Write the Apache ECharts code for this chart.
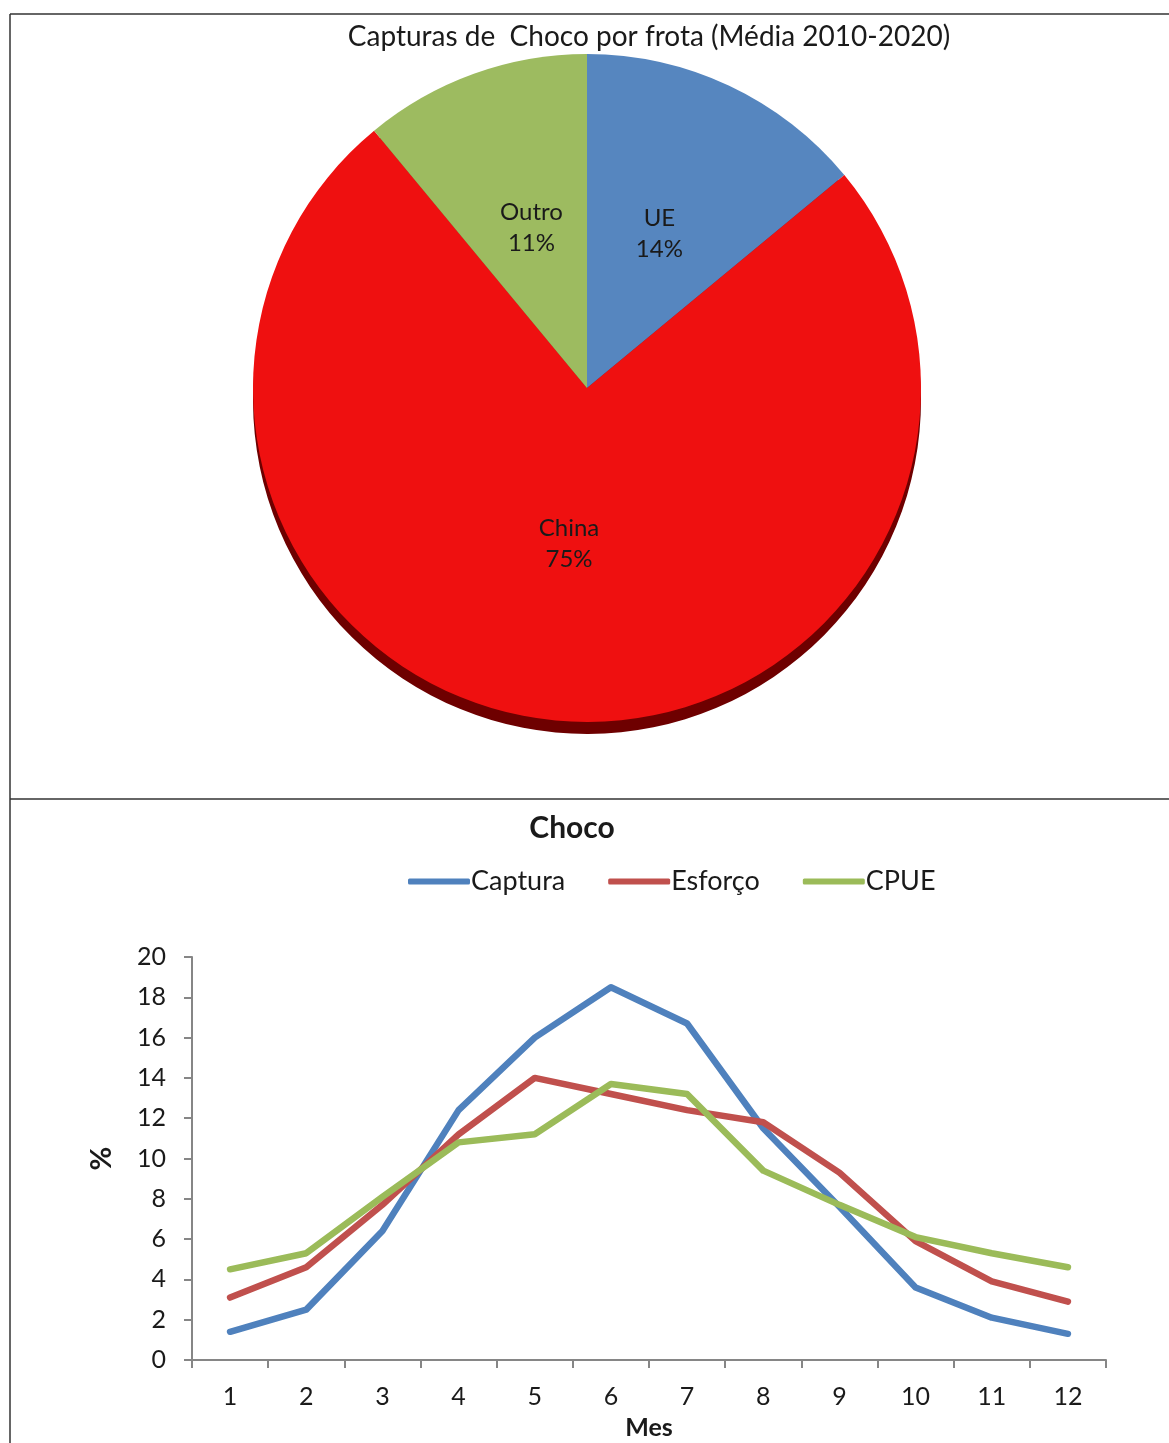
<!DOCTYPE html>
<html>
<head>
<meta charset="utf-8">
<script src="https://cdn.jsdelivr.net/npm/echarts@6/dist/echarts.min.js"></script>
<style>
  html, body { margin: 0; padding: 0; background: #ffffff; }
  #chart { width: 1169px; height: 1443px; }
</style>
</head>
<body>
<div id="chart"></div>
<script>
// Fleet shares of cuttlefish catches (2010-2020 average)
const fleets = ['UE', 'China', 'Outro'];
const fleetShare = [14, 75, 11];

// Monthly distribution (%)
const months = ['1', '2', '3', '4', '5', '6', '7', '8', '9', '10', '11', '12'];
const captura = [1.4, 2.5, 6.4, 12.4, 16.0, 18.5, 16.7, 11.5, 7.6, 3.6, 2.1, 1.3];
const esforco = [3.1, 4.6, 7.7, 11.2, 14.0, 13.2, 12.4, 11.8, 9.3, 5.9, 3.9, 2.9];
const cpue = [4.5, 5.3, 8.1, 10.8, 11.2, 13.7, 13.2, 9.4, 7.7, 6.1, 5.3, 4.6];

const FONT = 'Lato, "Liberation Sans", sans-serif';
const sliceColors = ['#5686BF', '#EF1010', '#9DBB60'];
const sideColors = ['#2d4f7a', '#6e0000', '#5d7733'];

const pieCenter = [587, 388];
const pieRadius = 334;

const chart = echarts.init(document.getElementById('chart'), null, { renderer: 'canvas' });

const option = {
  backgroundColor: '#ffffff',
  animation: false,
  textStyle: { fontFamily: FONT },
  title: [
    {
      text: 'Capturas de  Choco por frota (Média 2010-2020)',
      left: 649, top: 23, textAlign: 'center', padding: 0,
      textStyle: { fontFamily: FONT, fontSize: 28, fontWeight: 'normal', color: '#1a1a1a' }
    },
    {
      text: 'Choco',
      left: 572, top: 813, textAlign: 'center', padding: 0,
      textStyle: { fontFamily: FONT, fontSize: 30, fontWeight: 'bold', color: '#1a1a1a' }
    }
  ],
  legend: {
    left: 403, top: 863,
    itemWidth: 62, itemHeight: 6, itemGap: 43,
    icon: 'roundRect',
    textStyle: { fontFamily: FONT, fontSize: 27, color: '#1a1a1a', padding: [0, 0, 0, -4] },
    data: ['Captura', 'Esforço', 'CPUE']
  },
  grid: { left: 192, right: 63, top: 957, bottom: 83, containLabel: false },
  xAxis: {
    type: 'category',
    data: months,
    boundaryGap: true,
    name: 'Mes', nameLocation: 'middle', nameGap: 55,
    nameTextStyle: { fontFamily: FONT, fontSize: 25, fontWeight: 'bold', color: '#1a1a1a' },
    axisLine: { lineStyle: { color: '#868686', width: 2 } },
    axisTick: { show: true, length: 8, lineStyle: { color: '#868686', width: 2 } },
    axisLabel: { fontFamily: FONT, fontSize: 25, color: '#1a1a1a', margin: 24, interval: 0 },
    splitLine: { show: false }
  },
  yAxis: {
    type: 'value',
    min: 0, max: 20, interval: 2,
    name: '%', nameLocation: 'middle', nameGap: 76, nameRotate: 90,
    nameTextStyle: { fontFamily: FONT, fontSize: 29, fontWeight: 'bold', color: '#1a1a1a' },
    axisLine: { show: true, lineStyle: { color: '#868686', width: 2 } },
    axisTick: { show: true, length: 8, lineStyle: { color: '#868686', width: 2 } },
    axisLabel: { fontFamily: FONT, fontSize: 25, color: '#1a1a1a', margin: 26 },
    splitLine: { show: false }
  },
  series: [
    {
      // extruded side of the tilted pie
      type: 'pie',
      silent: true,
      center: [pieCenter[0], pieCenter[1] + 12],
      radius: pieRadius,
      startAngle: 90, clockwise: true,
      label: { show: false }, labelLine: { show: false },
      data: fleets.map((n, i) => ({ name: n + '_side', value: fleetShare[i], itemStyle: { color: sideColors[i] } }))
    },
    {
      type: 'pie',
      center: pieCenter,
      radius: pieRadius,
      startAngle: 90, clockwise: true,
      label: {
        show: true, position: 'inside',
        formatter: p => p.name + '\n' + p.value + '%',
        fontFamily: FONT, fontSize: 24, lineHeight: 31, color: '#1a1a1a'
      },
      labelLine: { show: false },
      itemStyle: { borderWidth: 0 },
      data: fleets.map((n, i) => ({
        name: n, value: fleetShare[i],
        itemStyle: { color: sliceColors[i] },
        label: n === 'China' ? { offset: [-2, -13] } : (n === 'Outro' ? { offset: [2, 0] } : {})
      }))
    },
    {
      name: 'Captura', type: 'line', data: captura,
      symbol: 'none', color: '#4F81BD',
      lineStyle: { width: 6.5, color: '#4F81BD', cap: 'round', join: 'round' }
    },
    {
      name: 'Esforço', type: 'line', data: esforco,
      symbol: 'none', color: '#C0504D',
      lineStyle: { width: 6.5, color: '#C0504D', cap: 'round', join: 'round' }
    },
    {
      name: 'CPUE', type: 'line', data: cpue,
      symbol: 'none', color: '#9BBB59',
      lineStyle: { width: 6.5, color: '#9BBB59', cap: 'round', join: 'round' }
    }
  ],
  graphic: [
    { type: 'line', shape: { x1: 10, y1: 14, x2: 1169, y2: 14 }, style: { stroke: '#333333', lineWidth: 1.5 } },
    { type: 'line', shape: { x1: 10, y1: 14, x2: 10, y2: 1443 }, style: { stroke: '#333333', lineWidth: 1.5 } },
    { type: 'line', shape: { x1: 10, y1: 799, x2: 1169, y2: 799 }, style: { stroke: '#333333', lineWidth: 1.5 } }
  ]
};

chart.setOption(option);
</script>
</body>
</html>
